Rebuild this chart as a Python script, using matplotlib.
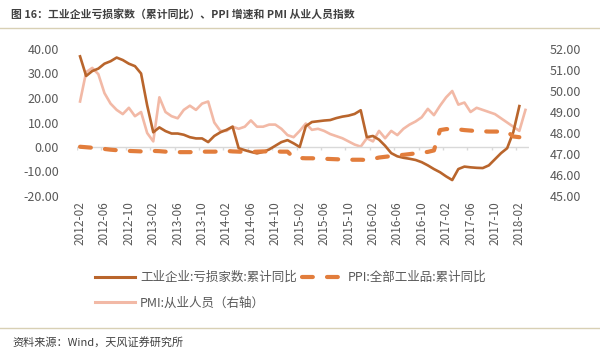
import matplotlib
matplotlib.use("Agg")
import matplotlib.pyplot as plt
from matplotlib.lines import Line2D
import numpy as np

plt.rcParams['font.family'] = ['Noto Sans CJK SC', 'DejaVu Sans']

# 工业企业:亏损家数:累计同比 (%), monthly from 2012-02
loss = [37, 29, 31, 32, 34, 35, 36.5, 35.5, 34, 33, 30, 17,
        6, 8, 6.5, 5.5, 5.5, 5, 4, 3.5, 3.5, 2, 4.5, 6,
        7, 8.3, -0.5, -1.3, -2, -2.6, -2, -1, 0.5, 2, 2.8, 1.5,
        0, 8.5, 10.2, 10.5, 10.8, 11, 11.8, 12.4, 12.8, 13.5, 15, 4,
        4.5, 3, 0.5, -2.5, -3.8, -4.4, -4.8, -5.3, -6.2, -7.5, -9, -10.3,
        -12, -13.5, -9, -8, -8.3, -8.5, -8.6, -7.5, -5, -2.5, -0.5, 6,
        16.7]

# PPI:全部工业品:累计同比 (%)
ppi = [0.1, -0.1, -0.3, -0.6, -0.8, -1.1, -1.3, -1.5, -1.6, -1.7, -1.8, -1.7,
       -1.6, -1.7, -1.9, -2.0, -2.1, -2.1, -2.1, -2.0, -1.9, -1.9, -1.9, -1.8,
       -1.6, -1.8, -1.9, -2.0, -2.0, -1.9, -1.8, -1.8, -1.8, -1.9, -1.9, -4.3,
       -4.5, -4.6, -4.6, -4.7, -4.8, -4.9, -5.0, -5.1, -5.2, -5.2, -5.2, -5.3,
       -4.9, -4.3, -4.0, -3.7, -3.4, -3.2, -2.9, -2.6, -2.3, -2.0, -1.4, 6.9,
       7.3, 7.4, 7.2, 6.9, 6.7, 6.5, 6.4, 6.3, 6.3, 6.3, 6.3, 4.3,
       4.0]

# PMI:从业人员 (右轴), 2012-02 .. 2018-03
pmi = [49.5, 50.9, 51.1, 50.8, 49.9, 49.4, 49.1, 48.9, 49.2, 48.8, 49.0, 48.0,
       47.6, 49.7, 49.0, 48.8, 48.7, 49.1, 49.3, 49.1, 49.4, 49.5, 48.5, 48.1,
       48.1, 48.3, 48.2, 48.3, 48.6, 48.3, 48.3, 48.4, 48.4, 48.2, 47.9, 47.8,
       48.1, 48.45, 48.15, 48.2, 48.1, 47.95, 47.85, 47.75, 47.6, 47.45, 47.35, 47.75,
       47.6, 48.1, 47.75, 48.1, 47.9, 48.2, 48.4, 48.55, 48.75, 49.15, 48.85, 49.3,
       49.7, 50.0, 49.35, 49.45, 49.0, 49.2, 49.1, 49.0, 48.9, 48.7, 48.5, 48.3,
       48.1, 49.1]

date_labels = ['2012-02', '2012-06', '2012-10', '2013-02', '2013-06', '2013-10',
               '2014-02', '2014-06', '2014-10', '2015-02', '2015-06', '2015-10',
               '2016-02', '2016-06', '2016-10', '2017-02', '2017-06', '2017-10',
               '2018-02']

title = '图 16：工业企业亏损家数（累计同比）、PPI 增速和 PMI 从业人员指数'
source = '资料来源：Wind，天风证券研究所'

c_loss = '#b9652c'
c_ppi = '#e27d3c'
c_pmi = '#f2b9a6'
c_text = '#595959'

fig = plt.figure(figsize=(6, 3.54), dpi=100)
ax = fig.add_axes([77 / 600, 1 - 196 / 354, 451.5 / 600, 147 / 354])
ax2 = ax.twinx()

# zero line with small category ticks
ax.axhline(0, color='#d9d9d9', lw=1, zorder=1)
ax.vlines(np.arange(-0.5, 72, 4), -1.3, 0, color='#d9d9d9', lw=1, zorder=1)

ax2.plot(np.arange(len(pmi)), pmi, color=c_pmi, lw=1.9, zorder=2)
ax.plot(np.arange(len(loss)), loss, color=c_loss, lw=1.9, zorder=3)
ax.plot(np.arange(len(ppi)), ppi, color=c_ppi, lw=3, dashes=(2.6, 3.4),
        dash_capstyle='round', zorder=3)

ax.set_zorder(ax2.get_zorder() + 1)
ax.patch.set_visible(False)

ax.set_xlim(-0.5, 73.5)
ax.set_ylim(-20, 40)
ax.set_yticks(np.arange(-20, 41, 10))
ax.set_yticklabels(['%.2f' % v for v in np.arange(-20, 41, 10)])
ax2.set_ylim(45, 52)
ax2.set_yticks(np.arange(45, 53, 1))
ax2.set_yticklabels(['%.2f' % v for v in np.arange(45, 53, 1)])

ax.set_xticks(np.arange(0, 73, 4))
ax.set_xticklabels(date_labels, rotation=90)

for a in (ax, ax2):
    for s in a.spines.values():
        s.set_visible(False)
    a.tick_params(length=0, colors=c_text, labelsize=9)
ax.tick_params(axis='x', labelsize=8.5, pad=4)
ax.tick_params(axis='y', pad=13)
ax2.tick_params(axis='y', pad=15)

handles = [Line2D([], [], color=c_loss, lw=2.2),
           Line2D([], [], color=c_pmi, lw=2.2),
           Line2D([], [], color=c_ppi, lw=3, dashes=(2.6, 3.4), dash_capstyle='round')]
labels = ['工业企业:亏损家数:累计同比', 'PMI:从业人员（右轴）', 'PPI:全部工业品:累计同比']
fig.legend(handles, labels, loc='upper left', bbox_to_anchor=(95 / 600, 1 - 271 / 354),
           ncol=2, frameon=False, borderpad=0, borderaxespad=0, fontsize=9,
           handlelength=3.2, handletextpad=0.4, columnspacing=0.45,
           labelspacing=1.0, labelcolor=c_text)

fig.text(11 / 600, 1 - 15 / 354, title, fontsize=7.8, fontweight='bold',
         color='#404040', va='center', ha='left')
fig.add_artist(Line2D([0, 1], [1 - 28 / 354] * 2, transform=fig.transFigure,
                      color='#d8d0b4', lw=1))
fig.add_artist(Line2D([0, 1], [1 - 328 / 354] * 2, transform=fig.transFigure,
                      color='#d8d0b4', lw=1))
fig.text(12 / 600, 1 - 342 / 354, source, fontsize=8, color='#404040',
         va='center', ha='left')

fig.savefig('out.png', dpi=100)
